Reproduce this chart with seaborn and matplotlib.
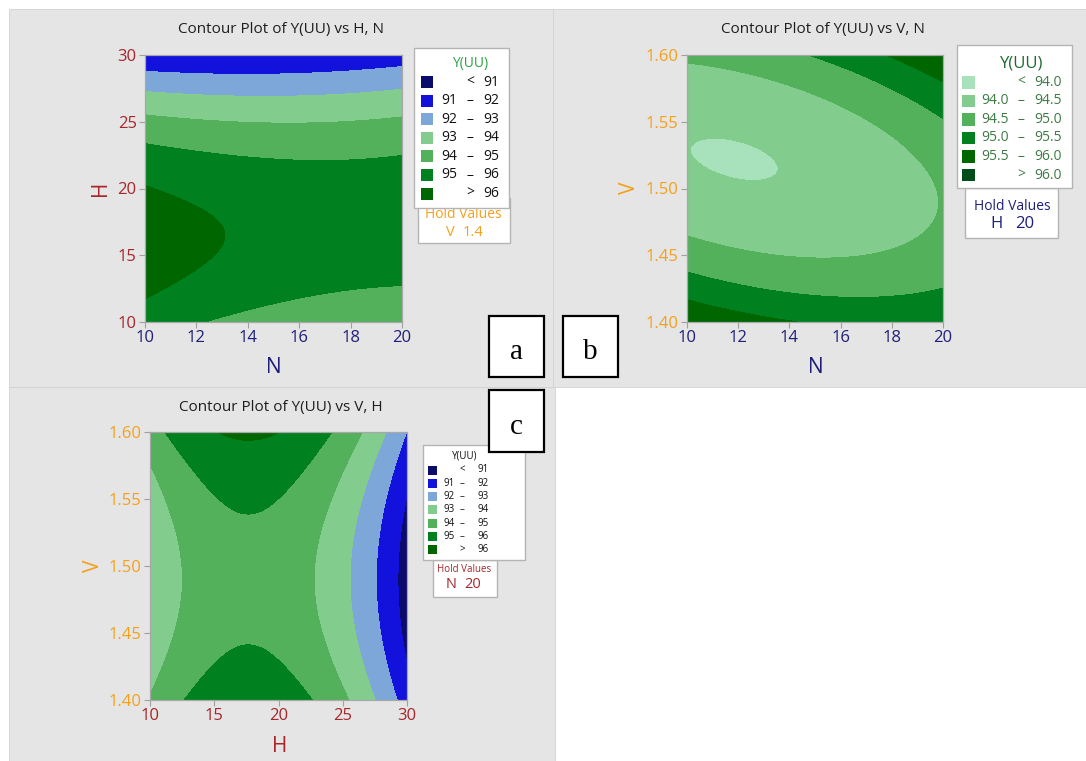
import numpy as np
import matplotlib
matplotlib.use("Agg")
import matplotlib.pyplot as plt
from matplotlib.patches import Rectangle
import seaborn as sns

# ---------------------------------------------------------------------------
# Data: fitted response Y(UU) on a 5 x 5 design grid for each pair of factors
# ---------------------------------------------------------------------------
N_NODES = [10.0, 12.5, 15.0, 17.5, 20.0]
H_NODES = [10.0, 15.0, 20.0, 25.0, 30.0]
V_NODES = [1.40, 1.45, 1.50, 1.55, 1.60]

# V held at 1.4 -> rows: H, columns: N
Y_HN = [
    [95.51, 94.96, 94.53, 94.23, 94.06],
    [96.46, 96.02, 95.71, 95.53, 95.46],
    [96.05, 95.72, 95.52, 95.44, 95.49],
    [94.25, 94.04, 93.95, 93.98, 94.14],
    [91.08, 90.98, 91.00, 91.15, 91.42],
]
# H held at 20 -> rows: V, columns: N
Y_VN = [
    [95.94, 95.67, 95.48, 95.43, 95.38],
    [94.75, 94.54, 94.47, 94.53, 94.73],
    [94.11, 94.01, 94.05, 94.23, 94.55],
    [94.06, 94.08, 94.24, 94.53, 94.97],
    [94.61, 94.75, 95.02, 95.44, 95.98],
]
# N held at 20 -> rows: V, columns: H
Y_VH = [
    [94.07, 95.48, 95.52, 94.19, 91.48],
    [93.30, 94.71, 94.75, 93.42, 90.71],
    [93.12, 94.53, 94.58, 93.24, 90.53],
    [93.53, 94.95, 94.99, 93.66, 90.95],
    [94.54, 95.96, 96.00, 94.67, 91.96],
]

LEVELS_1 = [91, 92, 93, 94, 95, 96]
LEVELS_05 = [94.0, 94.5, 95.0, 95.5, 96.0]
COLORS_1 = ["#0b0b6b", "#1212dc", "#7da7d9", "#82cc8e", "#53b05b", "#00801e", "#006600"]
COLORS_05 = ["#a8e2bc", "#82cc8e", "#53b05b", "#00801e", "#006600", "#004d1a"]

TICKS_N = [10, 12, 14, 16, 18, 20]
TICKS_H = [10, 15, 20, 25, 30]
TICKS_V = [1.40, 1.45, 1.50, 1.55, 1.60]

RED = "#a6262b"
NAVY = "#1f1f7a"
ORANGE = "#f5a01a"
PANEL_GRAY = "#e5e5e5"

# ---------------------------------------------------------------------------
sns.set_theme(style="ticks")
plt.rcParams["font.family"] = ["Open Sans", "DejaVu Sans"]
plt.rcParams["axes.unicode_minus"] = False

W, H = 1086, 761
fig = plt.figure(figsize=(W / 100, H / 100), dpi=100)
fig.patch.set_facecolor("white")


def rect_px(x0, y0, x1, y1, **kw):
    r = Rectangle((x0 / W, 1 - y1 / H), (x1 - x0) / W, (y1 - y0) / H,
                  transform=fig.transFigure, **kw)
    fig.add_artist(r)
    return r


def text_px(x, y, s, **kw):
    return fig.text(x / W, 1 - y / H, s, **kw)


def axes_px(x0, y0, x1, y1):
    return fig.add_axes([x0 / W, 1 - y1 / H, (x1 - x0) / W, (y1 - y0) / H])


def quad_terms(u, w):
    # full second-order response-surface model terms
    return np.column_stack([np.ones_like(u), u, w, u * u, w * w, u * w])


def draw_surface(ax, xs, ys, z, levels, colors):
    xs = np.asarray(xs, float)
    ys = np.asarray(ys, float)
    z = np.asarray(z, float)
    code_x = lambda x: (x - (xs[0] + xs[-1]) / 2) / ((xs[-1] - xs[0]) / 2)
    code_y = lambda y: (y - (ys[0] + ys[-1]) / 2) / ((ys[-1] - ys[0]) / 2)
    U, V = np.meshgrid(code_x(xs), code_y(ys))
    coef, *_ = np.linalg.lstsq(quad_terms(U.ravel(), V.ravel()), z.ravel(), rcond=None)
    xf = np.linspace(xs[0], xs[-1], 400)
    yf = np.linspace(ys[0], ys[-1], 400)
    UF, VF = np.meshgrid(code_x(xf), code_y(yf))
    zf = (quad_terms(UF.ravel(), VF.ravel()) @ coef).reshape(UF.shape)
    bounds = [80.0] + list(levels) + [110.0]
    cs = ax.contourf(xf, yf, zf, levels=bounds, colors=colors)
    cs.set_edgecolor("face")
    cs.set_linewidth(0.4)
    ax.set_xlim(xs[0], xs[-1])
    ax.set_ylim(ys[0], ys[-1])


def style_axes(ax, xticks, yticks, xfmt, yfmt, xcolor, ycolor, xlabel, ylabel,
               xlab_pos, ylab_pos, title, title_x, title_y):
    ax.set_xticks(xticks)
    ax.set_yticks(yticks)
    ax.set_xticklabels([xfmt(t) for t in xticks])
    ax.set_yticklabels([yfmt(t) for t in yticks])
    ax.tick_params(axis="both", direction="out", length=4, width=0.8,
                   color="#a0a0a0", labelsize=12, pad=2)
    ax.tick_params(axis="x", labelcolor=xcolor)
    ax.tick_params(axis="y", labelcolor=ycolor)
    for s in ax.spines.values():
        s.set_color("#a8a8a8")
        s.set_linewidth(0.9)
    ax.set_xlabel(xlabel, fontsize=15, color=xcolor)
    ax.set_ylabel(ylabel, fontsize=15, color=ycolor)
    ax.xaxis.set_label_coords(*xlab_pos)
    ax.yaxis.set_label_coords(*ylab_pos)
    ax.xaxis.label.set_va("center")
    ax.yaxis.label.set_va("center")
    ax.set_title(title, x=title_x, y=title_y, pad=0, va="center",
                 fontsize=11, color="#1e1e1e")


def legend_rows(levels, fmt):
    rows = [("", "<", fmt(levels[0]))]
    rows += [(fmt(a), "\u2013", fmt(b)) for a, b in zip(levels[:-1], levels[1:])]
    rows += [("", ">", fmt(levels[-1]))]
    return rows


def draw_legend(box, title, title_pos, title_color, title_size, rows, colors,
                text_color, size, sw_x, sw_size, row_y0, row_dy, x_left, x_mid, x_right):
    rect_px(*box, facecolor="white", edgecolor="#b4b4b4", lw=1.0, zorder=2)
    text_px(*title_pos, title, ha="center", va="center", fontsize=title_size,
            color=title_color, zorder=3)
    for k, ((lo, mid, hi), c) in enumerate(zip(rows, colors)):
        y = row_y0 + k * row_dy
        rect_px(sw_x, y - sw_size / 2, sw_x + sw_size, y + sw_size / 2,
                facecolor=c, edgecolor="none", zorder=3)
        if lo:
            text_px(x_left, y, lo, ha="right", va="center", fontsize=size, color=text_color, zorder=3)
        text_px(x_mid, y, mid, ha="center", va="center", fontsize=size, color=text_color, zorder=3)
        text_px(x_right, y, hi, ha="right", va="center", fontsize=size, color=text_color, zorder=3)


def draw_hold(box, color, head_pos, head_size, name, value, name_pos, value_pos, size):
    rect_px(*box, facecolor="white", edgecolor="#b4b4b4", lw=1.0, zorder=1.5)
    text_px(*head_pos, "Hold Values", ha="center", va="center", fontsize=head_size,
            color=color, zorder=1.6)
    text_px(*name_pos, name, ha="center", va="center", fontsize=size, color=color, zorder=1.6)
    text_px(*value_pos, value, ha="center", va="center", fontsize=size, color=color, zorder=1.6)


def tag_box(box, letter, pos):
    rect_px(*box, facecolor="white", edgecolor="black", lw=1.6, zorder=4)
    text_px(*pos, letter, ha="center", va="baseline", fontsize=21,
            family="Liberation Serif", color="black", zorder=5)


# panel backgrounds
rect_px(9, 9, 553, 387, facecolor=PANEL_GRAY, edgecolor="#d2d2d2", lw=0.6, zorder=-5)
rect_px(553, 9, 1086, 387, facecolor=PANEL_GRAY, edgecolor="#d2d2d2", lw=0.6, zorder=-5)
rect_px(9, 387, 555, 761, facecolor=PANEL_GRAY, edgecolor="#d2d2d2", lw=0.6, zorder=-5)

fmt_int = lambda t: f"{t:g}"
fmt_v = lambda t: f"{t:.2f}"

# ---- (a) Y(UU) vs H, N ----------------------------------------------------
ax_a = axes_px(145, 55, 402, 322)
draw_surface(ax_a, N_NODES, H_NODES, Y_HN, LEVELS_1, COLORS_1)
style_axes(ax_a, TICKS_N, TICKS_H, fmt_int, fmt_int, NAVY, RED, "N", "H",
           (0.502, -0.172), (-0.175, 0.502),
           "Contour Plot of Y(UU) vs H, N", (281 - 145) / 257, (322 - 30) / 267)
draw_hold((418, 198, 510, 243), ORANGE, (463, 214), 10, "V", "1.4", (450, 233), (473, 233), 10.5)
draw_legend((414, 48, 509, 208), "Y(UU)", (470, 64), "#2e9e45", 10,
            legend_rows(LEVELS_1, fmt_int), COLORS_1, "#111111", 10,
            421, 12, 82, 18.6, 457, 470, 499.5)

# ---- (b) Y(UU) vs V, N ----------------------------------------------------
ax_b = axes_px(687, 55, 943, 322)
draw_surface(ax_b, N_NODES, V_NODES, Y_VN, LEVELS_05, COLORS_05)
style_axes(ax_b, TICKS_N, TICKS_V, fmt_int, fmt_v, NAVY, ORANGE, "N", "V",
           (0.504, -0.172), (-0.223, 0.502),
           "Contour Plot of Y(UU) vs V, N", (823 - 687) / 256, (322 - 30) / 267)
draw_hold((965, 188, 1058, 238), NAVY, (1012, 206), 10, "H", "20", (997, 224), (1025, 224), 12)
draw_legend((957, 45, 1072, 188), "Y(UU)", (1022, 63), "#1e6a30", 12,
            legend_rows(LEVELS_05, lambda t: f"{t:.1f}"), COLORS_05, "#3d7a45", 10,
            962, 12.5, 82.3, 18.55, 1008.5, 1021, 1062)

# ---- (c) Y(UU) vs V, H ----------------------------------------------------
ax_c = axes_px(150, 432, 407, 700)
draw_surface(ax_c, H_NODES, V_NODES, Y_VH, LEVELS_1, COLORS_1)
style_axes(ax_c, TICKS_H, TICKS_V, fmt_int, fmt_v, RED, ORANGE, "H", "V",
           (0.506, -0.175), (-0.218, 0.5),
           "Contour Plot of Y(UU) vs V, H", (281 - 150) / 257, (700 - 407.5) / 268)
draw_hold((433, 560, 497, 597), RED, (464.5, 569), 7, "N", "20", (451, 584.5), (472.5, 584.5), 10.5)
draw_legend((423, 445, 525, 560), "Y(UU)", (465, 456), "#111111", 7,
            legend_rows(LEVELS_1, fmt_int), COLORS_1, "#111111", 7,
            428, 9, 470, 13.33, 455, 462, 488.5)

# panel tags
tag_box((489, 316, 544, 377), "a", (516.5, 359))
tag_box((563, 316, 618, 377), "b", (590.5, 359))
tag_box((489, 390, 544, 452), "c", (516.5, 433.5))

fig.savefig("out.png", dpi=100, facecolor="white")
